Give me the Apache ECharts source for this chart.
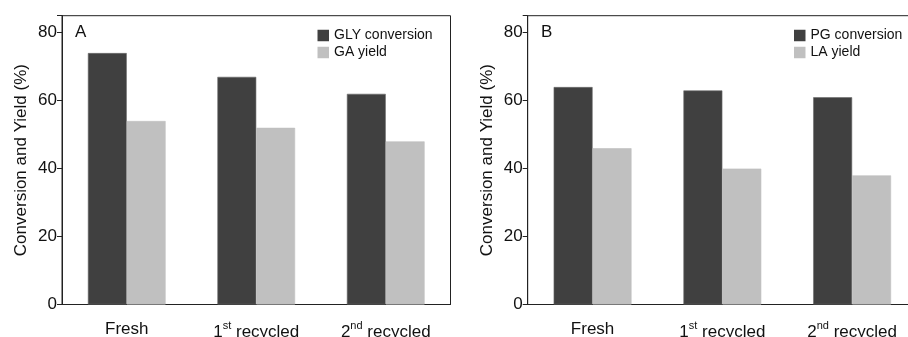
<!DOCTYPE html>
<html>
<head>
<meta charset="utf-8">
<script src="https://cdn.jsdelivr.net/npm/echarts@6/dist/echarts.min.js"></script>
<style>
  html, body { margin: 0; padding: 0; background: #fff; }
  #chart { width: 908px; height: 337px; }
</style>
</head>
<body>
<div id="chart"></div>
<script>
// Catalyst recycling runs (shared by both panels)
const categories = ['Fresh', '1{sup|st} recycled', '2{sup|nd} recycled'];
const yTicks = [0, 20, 40, 60, 80];

// Panel A: glycerol oxidation
const glyConversion = [74, 67, 62];
const gaYield = [54, 52, 48];

// Panel B: propylene glycol oxidation
const pgConversion = [64, 63, 61];
const laYield = [46, 40, 38];

const DARK = '#404040';
const LIGHT = '#c0c0c0';
const FONT = '"Liberation Sans", Arial, sans-serif';

const chart = echarts.init(document.getElementById('chart'), null, { renderer: 'canvas' });

function xAxisFor(gridIndex) {
  return {
    type: 'category',
    gridIndex,
    data: categories,
    axisLine: { lineStyle: { color: '#222', width: 1 } },
    axisTick: { alignWithLabel: true, length: 6, lineStyle: { color: '#222' } },
    axisLabel: {
      color: '#111',
      fontFamily: FONT,
      fontSize: 17,
      margin: 16,
      interval: 0,
      rich: {
        sup: { fontSize: 11, fontFamily: FONT, color: '#111', padding: [0, 0, 13, 0] }
      }
    }
  };
}

function yAxisFor(gridIndex) {
  return {
    type: 'value',
    gridIndex,
    min: 0,
    max: 85,
    interval: 20,
    name: 'Conversion and Yield (%)',
    nameLocation: 'middle',
    nameGap: 32,
    nameTextStyle: { color: '#111', fontFamily: FONT, fontSize: 17 },
    splitLine: { show: false },
    axisLine: { show: true, lineStyle: { color: '#222', width: 1 } },
    axisTick: { show: true, length: 5, lineStyle: { color: '#222' } },
    axisLabel: {
      color: '#111',
      fontFamily: FONT,
      fontSize: 17,
      margin: 5,
      formatter: v => (yTicks.includes(v) ? String(v) : '')
    }
  };
}

function barSeries(name, data, color, idx) {
  return {
    name,
    type: 'bar',
    xAxisIndex: idx,
    yAxisIndex: idx,
    data,
    barGap: '0%',
    barCategoryGap: '40%',
    itemStyle: { color, borderColor: color === DARK ? '#6a6a6a' : LIGHT, borderWidth: 0.6 },
    emphasis: { disabled: true }
  };
}

function legendFor(names, left) {
  return {
    data: names,
    orient: 'vertical',
    left,
    top: 27.5,
    padding: 0,
    itemWidth: 11.5,
    itemHeight: 11.5,
    itemGap: 1,
    icon: 'rect',
    itemStyle: { borderWidth: 0 },
    textStyle: { color: '#111', fontFamily: FONT, fontSize: 14, lineHeight: 16 }
  };
}

chart.setOption({
  animation: false,
  backgroundColor: '#fff',
  grid: [
    { left: 62, top: 15.7, right: 908 - 450.5, bottom: 32.5, show: true, borderColor: '#222', borderWidth: 1, backgroundColor: 'transparent', outerBoundsMode: 'none', containLabel: false },
    { left: 527.7, top: 15.7, right: -9, bottom: 32.5, show: true, borderColor: '#222', borderWidth: 1, backgroundColor: 'transparent', outerBoundsMode: 'none', containLabel: false }
  ],
  xAxis: [xAxisFor(0), xAxisFor(1)],
  yAxis: [yAxisFor(0), yAxisFor(1)],
  legend: [
    legendFor(['GLY conversion', 'GA yield'], 317.5),
    legendFor(['PG conversion', 'LA yield'], 794)
  ],
  graphic: [
    { type: 'text', left: 75, top: 24, style: { text: 'A', font: '17px ' + FONT, fill: '#111' } },
    { type: 'text', left: 541, top: 24, style: { text: 'B', font: '17px ' + FONT, fill: '#111' } }
  ],
  series: [
    barSeries('GLY conversion', glyConversion, DARK, 0),
    barSeries('GA yield', gaYield, LIGHT, 0),
    barSeries('PG conversion', pgConversion, DARK, 1),
    barSeries('LA yield', laYield, LIGHT, 1)
  ]
});
</script>
</body>
</html>
